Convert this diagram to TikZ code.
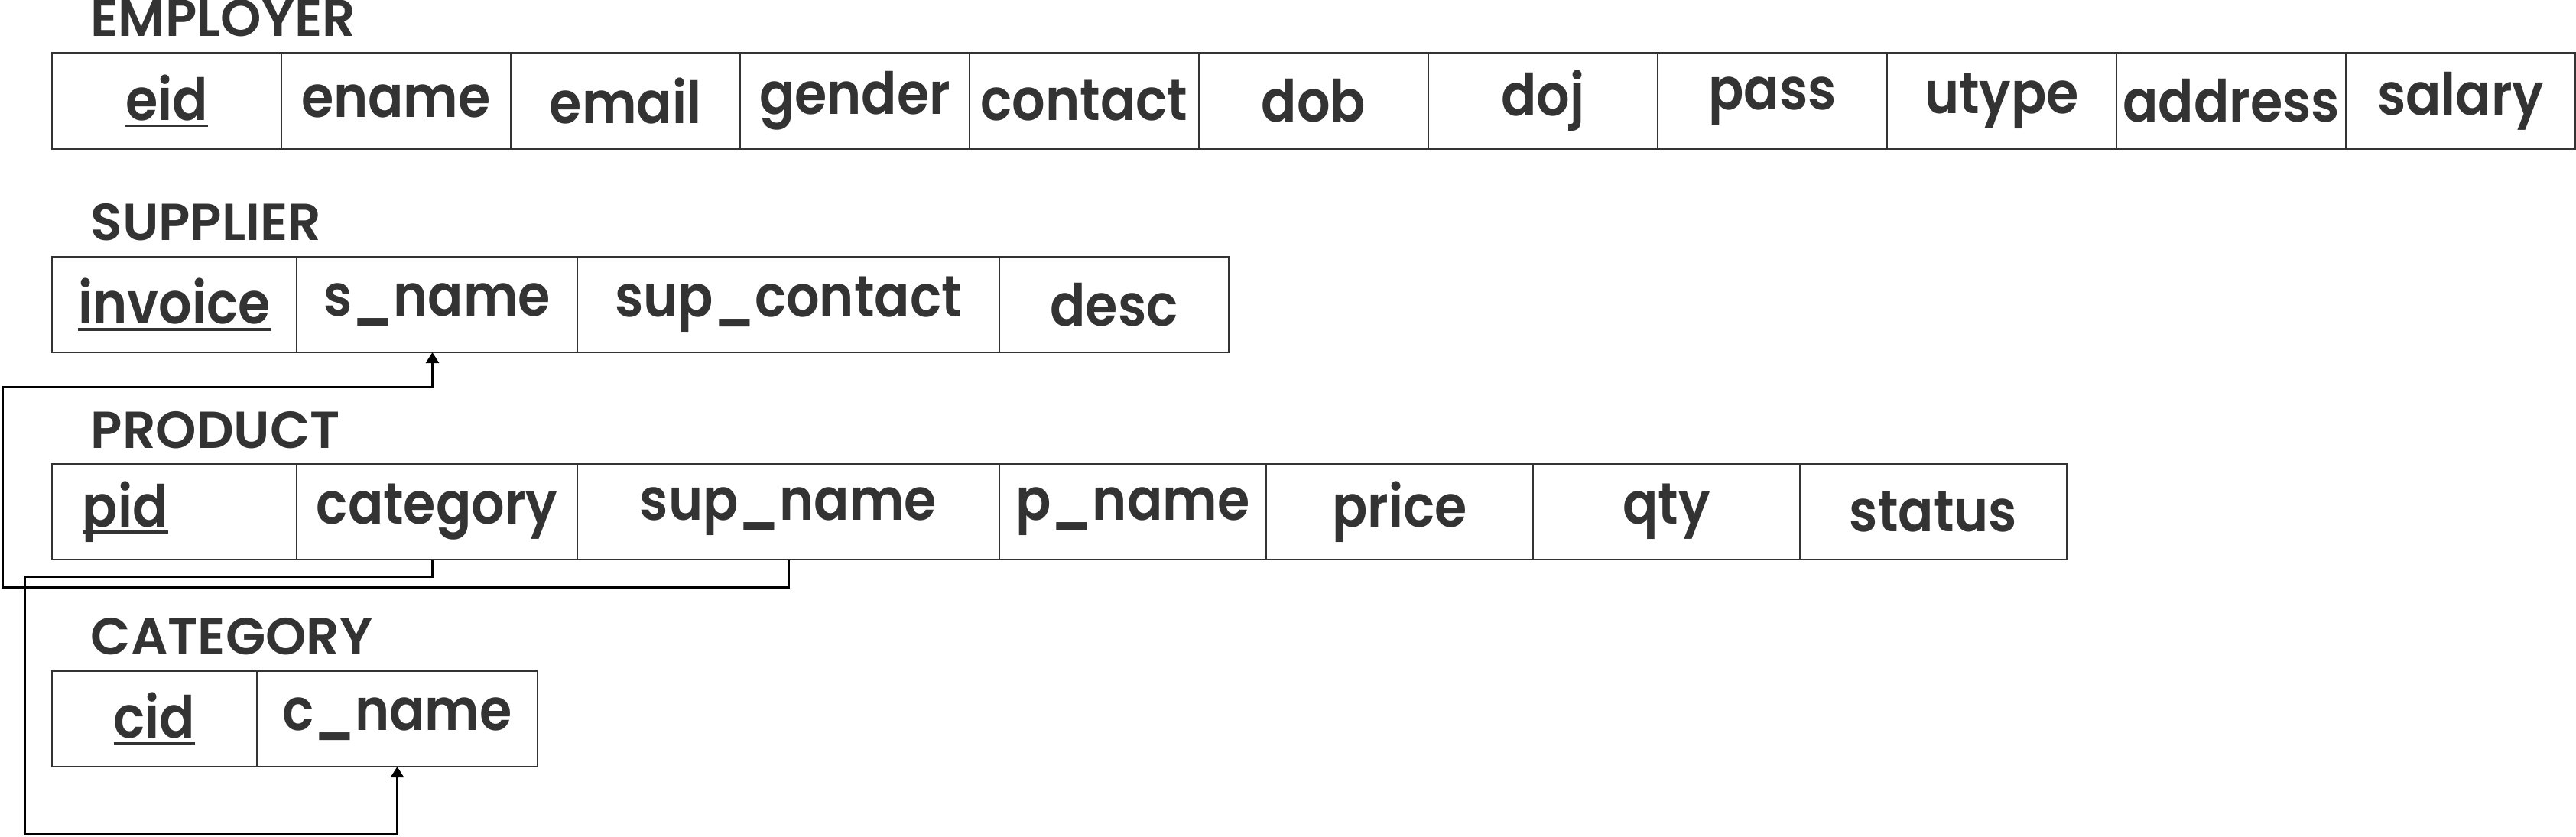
\documentclass[tikz,border=0pt]{standalone}
\usepackage{fontspec}
\setmainfont{Poppins}[UprightFont={* SemiBold}, FakeStretch=0.9]
\newfontfamily\titlefont{Poppins}[UprightFont={* SemiBold}]
\usetikzlibrary{positioning,arrows.meta}

\definecolor{ink}{HTML}{333333}
\newcommand{\pkey}[1]{\setbox0\hbox{#1}\rlap{\rule[-2.2pt]{\wd0}{0.9pt}}\box0}

\begin{document}
\begin{tikzpicture}[
            cell/.style={rectangle, draw=ink, line width=0.6pt, outer sep=0pt, inner xsep=0pt, minimum height=31.25pt, text=ink, font=\fontsize{19}{22}\selectfont},
            ecell/.style={cell, minimum width=75pt, minimum height=31.5pt},
            title/.style={anchor=base west, inner sep=0pt, text=ink, font=\titlefont\fontsize{17}{20}\selectfont},
            fk/.style={draw=black, line width=0.75pt, -{Triangle[length=3.5pt,width=4.25pt]}},
            ]
            \useasboundingbox (0,0) rectangle (842.25pt,-273.5pt);

            %Titles
            \node[title] (employer) at (29.5pt,-11.75pt)  {EMPLOYER};
            \node[title] (supplier) at (29.5pt,-78.5pt)   {SUPPLIER};
            \node[title] (product)  at (29.5pt,-146.5pt)  {PRODUCT};
            \node[title] (category) at (29.5pt,-214pt)    {CATEGORY};

            %Employer
            \node[ecell, anchor=north west] (emp-eid) at (17pt,-17.25pt) {\pkey{eid}};
            \node[ecell]    (emp-ename)   [right=0pt of emp-eid]    {ename};
            \node[ecell]    (emp-email)   [right=0pt of emp-ename]  {email};
            \node[ecell]    (emp-gender)  [right=0pt of emp-email]  {gender};
            \node[ecell]    (emp-contact) [right=0pt of emp-gender] {contact};
            \node[ecell]    (emp-dob)     [right=0pt of emp-contact] {dob};
            \node[ecell]    (emp-doj)     [right=0pt of emp-dob]    {doj};
            \node[ecell]    (emp-pass)    [right=0pt of emp-doj]    {pass};
            \node[ecell]    (emp-utype)   [right=0pt of emp-pass]   {utype};
            \node[ecell]    (emp-address) [right=0pt of emp-utype]  {address};
            \node[ecell]    (emp-salary)  [right=0pt of emp-address] {salary};

            %Supplier
            \node[cell, minimum width=80pt, anchor=north west] (sup-invoice) at (17pt,-84pt) {\pkey{invoice}};
            \node[cell, minimum width=91.75pt] (sup-sname)   [right=0pt of sup-invoice] {s\_name};
            \node[cell, minimum width=138pt]   (sup-contact) [right=0pt of sup-sname]   {sup\_contact};
            \node[cell, minimum width=75pt]    (sup-desc)    [right=0pt of sup-contact] {desc};

            %Product
            \node[cell, minimum width=80pt, text width=60pt, align=left, anchor=north west] (prd-pid) at (17pt,-151.75pt) {\pkey{pid}};
            \node[cell, minimum width=91.75pt] (prd-category) [right=0pt of prd-pid]      {category};
            \node[cell, minimum width=138pt]   (prd-supname)  [right=0pt of prd-category] {sup\_name};
            \node[cell, minimum width=87.25pt] (prd-pname)    [right=0pt of prd-supname]  {p\_name};
            \node[cell, minimum width=87.25pt] (prd-price)    [right=0pt of prd-pname]    {price};
            \node[cell, minimum width=87.25pt] (prd-qty)      [right=0pt of prd-price]    {qty};
            \node[cell, minimum width=87.25pt] (prd-status)   [right=0pt of prd-qty]      {status};

            %Category
            \node[cell, minimum width=67pt, anchor=north west] (cat-cid) at (17pt,-219.5pt) {\pkey{cid}};
            \node[cell, minimum width=91.75pt] (cat-cname) [right=0pt of cat-cid] {c\_name};

            %Lines
            \coordinate (supBend) at (0.75pt,-192pt);
            \coordinate (supTop)  at (0.75pt,-126.5pt);
            \coordinate (catBend) at (8pt,-188.5pt);
            \coordinate (catLow)  at (8pt,-272.75pt);
            \draw[fk] (prd-supname.south) |- (supBend) -- (supTop) -| ([xshift=-1.5pt]sup-sname.south);
            \draw[fk] ([xshift=-1.5pt]prd-category.south) |- (catBend) -- (catLow) -| (cat-cname.south);

        \end{tikzpicture}
\end{document}
